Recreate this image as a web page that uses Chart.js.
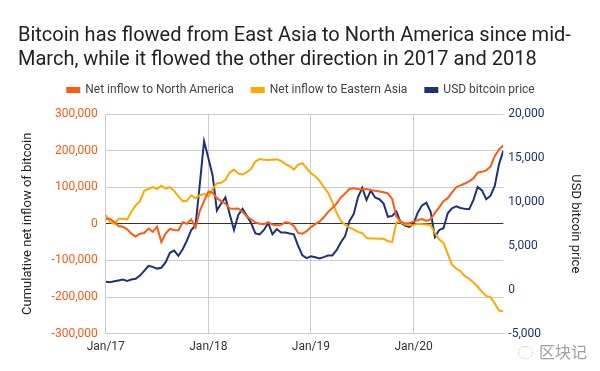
<!DOCTYPE html>
<html>
<head>
<meta charset="utf-8">
<script src="https://cdn.jsdelivr.net/npm/chart.js@4/dist/chart.umd.min.js"></script>
<style>
body{margin:0;background:#fff;font-family:Roboto,sans-serif}
#wrap{position:relative;width:600px;height:371px}
#mark{position:absolute;left:518px;top:339px;color:#a0a0a0;font-size:16px;font-family:"Noto Sans CJK SC",sans-serif}
#mark span{display:inline-block;width:13px;height:11px;border:1px dotted #bbb;border-radius:50%;margin-right:6px;vertical-align:-1px}
</style>
</head>
<body>
<div id="wrap">
<canvas id="c" width="600" height="371"></canvas>
<div id="mark"><span></span>区块记</div>
</div>
<script>

// months since Jan 2017, half-month steps
const months=[0,0.5,1,1.5,2,2.5,3,3.5,4,4.5,5,5.5,6,6.5,7,7.5,8,8.5,9,9.5,10,10.5,11,11.5,
12,12.5,13,13.5,14,14.5,15,15.5,16,16.5,17,17.5,18,18.5,19,19.5,20,20.5,21,21.5,22,22.5,23,23.5,
24,24.5,25,25.5,26,26.5,27,27.5,28,28.5,29,29.5,30,30.5,31,31.5,32,32.5,33,33.5,34,34.5,35,35.5,
36,36.5,37,37.5,38,38.5,39,39.5,40,40.5,41,41.5,42,42.5,43,43.5,44,44.5,45,45.5,46,46.5]

const xLabels=["Jan/17","Jan/18","Jan/19","Jan/20"]

// thousands of BTC
const northAmerica=[14,13,5,-6,-8,-15,-27,-35,-27,-25,-13,-22,-8,-50,-27,-14,-17,-18,4,0,12,-10,35,62,
88,85,70,62,55,42,41,42,33,20,12,4,0,-1,4,-2,-4,-3,4,2,-6,-25,-27,-20,
-9,-1,6,18,32,43,55,72,83,95,97,95,94,95,92,90,88,86,83,68,20,6,1,2,
6,10,13,8,12,30,45,62,70,86,100,105,110,116,124,140,142,146,156,185,203,214]

const easternAsia=[25,5,0,14,14,12,33,50,62,90,95,100,95,104,96,100,90,75,62,63,78,70,78,82,
74,95,111,112,120,140,148,137,135,141,150,170,177,175,174,175,176,172,163,158,148,162,166,152,
138,130,118,100,85,60,30,8,-3,-10,-15,-22,-25,-39,-40,-40,-41,-41,-47,-50,4,4,-2,-4,
-3,0,-1,-2,-4,-25,-43,-52,-82,-112,-122,-130,-143,-150,-160,-172,-186,-197,-200,-218,-237,-239]

const btcPrice=[900,850,950,1050,1150,1000,1150,1250,1600,2150,2700,2600,2400,2500,3100,4200,4450,3850,4600,5600,6800,7300,12000,16900,
15000,13000,9000,9800,10500,8600,6800,8500,9200,8400,7600,6400,6300,6800,7600,6300,6900,6500,6500,6400,6300,5000,3900,3600,
3800,3700,3550,3700,3900,3900,4500,5400,6100,7800,8600,10500,11600,10200,11300,10500,10300,9800,8300,8400,8900,7600,7300,7150,
7500,8800,9600,9900,8870,6000,6800,7000,8700,9250,9500,9300,9200,9150,10200,11700,11300,10300,10700,11800,14300,15800]

const orange="#ff5a14"
const yellow="#ffa800"
const navy="#1f3274"

function pts(vals,mult){
return months.map((m,i)=>({x:m,y:vals[i]*mult}))
}

function line(label,vals,mult,color,axis){
return{label:label,data:pts(vals,mult),borderColor:color,backgroundColor:color,
borderWidth:2,pointRadius:0,tension:0,yAxisID:axis}
}

// extra room under the legend
const legendGap={id:"legendGap",beforeInit(chart){
const fit=chart.legend.fit
chart.legend.fit=function(){fit.bind(chart.legend)();this.height+=8}
}}

new Chart(document.getElementById("c"),{
type:"line",
data:{datasets:[
line("Net inflow to North America",northAmerica,1000,orange,"y"),
line("Net inflow to Eastern Asia",easternAsia,1000,yellow,"y"),
line("USD bitcoin price",btcPrice,1,navy,"y1")
]},
options:{
responsive:false,
animation:false,
layout:{padding:{left:18,right:16,top:0,bottom:11}},
plugins:{
title:{display:true,align:"start",color:"#222",
text:["Bitcoin has flowed from East Asia to North America since mid-","March, while it flowed the other direction in 2017 and 2018"],
font:{family:"Roboto",size:20,weight:"normal",lineHeight:1.2},padding:{top:24,bottom:-6}},
legend:{labels:{boxWidth:12,boxHeight:4,padding:18,color:"#444",font:{family:"Roboto",size:12}}},
tooltip:{enabled:false}
},
scales:{
x:{type:"linear",min:0,max:46.5,
border:{color:"#ccc"},
grid:{drawTicks:false,color:c=>c.tick.value%12===0?"#ccc":"rgba(0,0,0,0)"},
ticks:{stepSize:12,padding:6,color:"#333",font:{family:"Roboto",size:12},
callback:v=>v%12===0?xLabels[v/12]:""}},
y:{position:"left",min:-300000,max:300000,
border:{color:"#ccc"},
grid:{drawTicks:false,color:c=>c.tick.value===0?"#333":"#ccc"},
ticks:{stepSize:100000,padding:8,color:orange,font:{family:"Roboto",size:12},
callback:v=>v.toLocaleString("en-US")},
title:{display:true,text:"Cumulative net inflow of bitcoin",color:"#222",
font:{family:"Roboto",size:13},padding:{top:2,bottom:8}}},
y1:{position:"right",min:-5000,max:20000,
border:{display:false},
grid:{display:false,drawTicks:false},
ticks:{stepSize:5000,padding:5,color:navy,font:{family:"Roboto",size:12},
callback:v=>v.toLocaleString("en-US")},
title:{display:true,text:"USD bitcoin price",color:"#222",
font:{family:"Roboto",size:13},padding:{top:1,bottom:18}}}
}
},
plugins:[legendGap]
})

</script>
</body>
</html>
